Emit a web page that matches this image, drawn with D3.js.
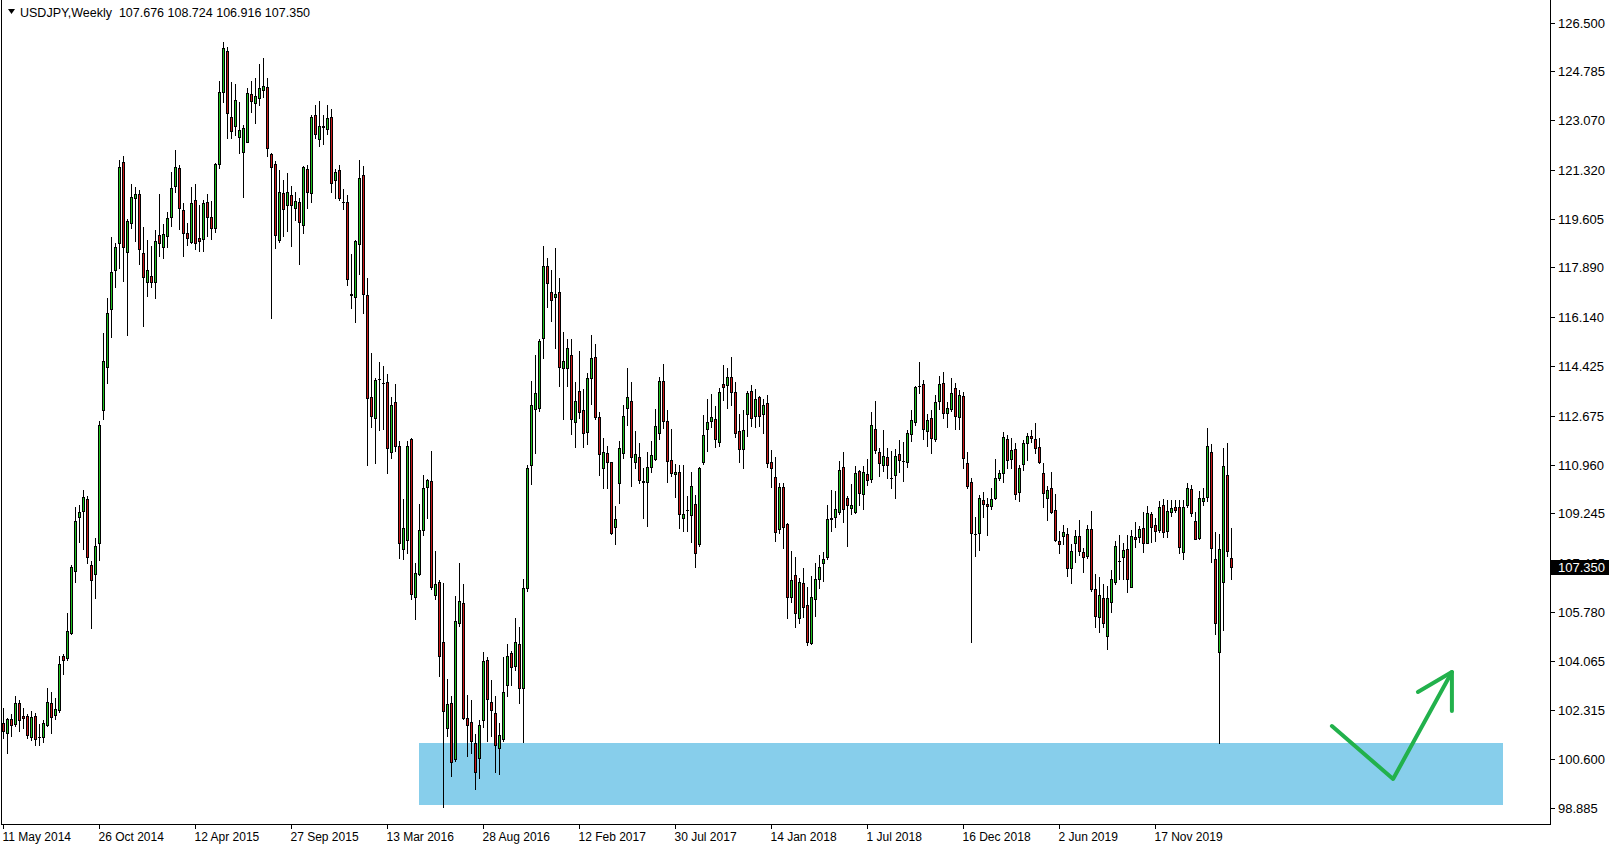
<!DOCTYPE html>
<html><head><meta charset="utf-8">
<script src="https://cdn.jsdelivr.net/npm/d3@7"></script>
<style>html,body{margin:0;padding:0;background:#fff;overflow:hidden}svg{display:block}text{font-family:"Liberation Sans",Arial,sans-serif}</style>
</head><body><svg id="c" width="1615" height="850"></svg>
<script>
const symbolTitle = "USDJPY,Weekly";
const lastQuote = ["107.676", "108.724", "106.916", "107.350"];
const open = [101.86,101.52,102.00,101.84,102.56,102.10,102.10,101.39,102.10,101.36,101.39,101.79,102.56,102.16,102.32,104.22,104.15,105.03,107.23,109.13,109.34,109.73,107.44,107.12,108.21,112.88,
114.40,116.42,117.80,118.74,121.59,118.45,119.44,120.32,120.46,118.39,117.39,117.59,117.39,119.02,118.62,119.01,119.68,120.77,121.38,119.91,119.09,118.80,120.25,118.92,118.88,120.18,
119.65,119.29,121.52,124.05,125.50,123.17,122.88,122.49,121.94,122.29,123.98,123.66,123.84,124.13,124.23,121.88,121.53,118.86,120.50,120.09,120.44,119.97,120.18,119.37,121.34,120.50,
123.25,122.40,122.86,122.76,123.19,120.96,121.32,120.20,120.20,116.94,116.84,118.71,121.16,116.93,113.35,112.59,113.96,113.82,113.86,111.39,113.15,111.60,107.99,108.30,111.86,106.30,
107.12,108.64,110.18,110.37,106.37,106.84,104.71,101.70,102.58,100.61,105.38,106.09,102.05,101.92,101.16,100.63,101.96,104.09,102.61,102.22,100.98,101.32,103.21,104.33,103.86,104.63,
103.09,106.62,110.94,112.91,112.96,115.40,117.94,117.02,116.84,117.02,114.37,114.34,114.81,112.47,113.55,112.88,112.11,113.99,114.73,112.62,110.85,111.35,111.04,108.75,110.30,111.35,
112.94,113.19,111.06,111.21,110.37,110.33,110.88,111.15,112.08,113.90,112.49,111.12,110.61,110.68,109.07,109.35,109.18,109.56,108.15,111.04,112.20,112.49,112.56,111.76,113.79,113.76,
114.03,113.50,112.14,111.49,112.72,113.54,112.68,113.32,112.72,113.11,111.06,110.53,108.68,110.18,108.87,106.31,107.06,105.55,106.78,106.02,104.67,106.22,106.95,107.48,107.72,109.06,
109.12,109.30,110.86,109.77,109.44,109.30,110.73,109.91,110.61,110.44,112.20,111.39,110.94,111.21,110.50,110.59,111.32,111.08,111.04,112.02,112.44,113.73,113.78,112.14,112.58,111.84,
113.19,113.82,112.76,112.90,113.64,112.64,113.37,111.00,110.33,108.53,108.54,109.71,109.56,109.51,109.77,110.47,110.65,111.86,111.14,111.49,110.00,110.97,111.70,111.96,111.85,111.58,
110.67,109.77,110.12,109.36,108.28,108.46,108.50,107.31,108.19,108.45,107.87,107.75,108.69,106.57,105.58,106.25,104.94,106.11,106.84,107.56,107.72,107.99,106.66,108.42,108.42,108.74,
108.21,109.21,108.83,108.66,109.54,108.63,109.28,109.45,109.45,107.89,109.54,110.09,108.97,108.39,109.69,109.81,111.39,107.64,104.38,106.81,110.59,107.676];
const high = [102.39,102.04,102.18,102.82,102.68,102.38,102.18,102.28,102.21,101.84,101.97,103.10,102.96,102.74,104.22,104.29,105.72,107.44,109.48,109.55,110.08,109.85,107.58,108.38,112.49,115.57,
116.80,118.95,118.74,121.67,121.81,119.60,120.83,120.73,120.62,119.30,118.86,118.65,119.21,120.47,119.42,119.85,121.26,122.02,121.49,120.17,119.44,120.71,120.83,120.09,120.26,120.47,
120.23,121.58,124.45,125.83,125.63,124.40,124.34,123.72,122.90,124.19,124.45,124.57,125.05,125.27,124.57,121.93,121.64,121.32,120.97,121.22,120.77,120.56,120.35,121.47,121.49,123.25,
123.59,123.75,123.26,123.62,123.47,121.37,121.49,120.64,120.44,118.38,118.86,121.67,121.47,117.51,114.87,114.02,114.56,114.44,114.14,113.33,113.78,111.78,109.74,111.80,111.90,107.50,
109.57,110.58,110.45,111.44,107.92,106.89,106.80,103.42,102.82,106.35,107.51,106.76,102.86,102.67,101.48,101.99,104.35,104.18,103.38,102.82,101.86,104.18,104.63,104.41,105.57,105.25,
106.95,110.94,113.91,114.81,115.37,118.65,118.24,117.80,118.56,117.53,115.61,115.37,115.37,113.87,114.95,113.62,114.17,115.51,115.20,112.82,111.88,111.61,111.06,109.50,111.79,113.05,
114.37,113.87,112.14,111.70,110.85,111.41,111.79,112.91,114.05,114.49,112.88,112.21,110.98,110.94,110.94,109.85,110.71,109.89,110.88,112.70,113.25,113.43,113.02,113.64,114.46,114.37,
114.75,113.87,112.72,112.88,113.56,113.76,113.60,113.37,113.25,113.40,111.47,111.21,110.30,110.30,108.91,107.93,107.72,106.96,107.31,106.64,107.04,107.48,107.78,107.89,109.53,110.06,
110.03,111.08,111.39,109.86,110.27,110.91,110.77,110.92,111.14,112.82,113.19,111.55,112.17,111.53,111.43,111.49,111.82,111.74,112.17,112.88,113.72,114.55,113.93,112.72,112.88,113.40,
114.07,114.23,113.17,114.01,113.82,113.58,113.50,111.39,110.47,109.10,109.89,109.98,109.79,110.15,111.15,110.77,112.12,112.00,111.90,111.70,110.94,111.82,112.08,112.17,112.41,111.88,
111.00,110.20,110.71,109.92,108.62,108.82,108.71,108.16,108.66,109.01,108.04,108.83,109.32,107.11,107.01,106.76,106.70,107.25,108.28,108.48,108.19,108.48,108.66,108.93,108.80,109.28,
109.51,109.30,109.07,109.68,109.75,109.71,109.71,109.71,109.71,109.71,110.30,110.24,109.28,110.03,110.14,112.26,111.68,108.60,108.52,111.53,111.73,108.724];
const low = [101.34,100.82,101.41,101.77,101.58,101.69,101.34,101.27,101.09,101.09,101.20,101.77,101.51,102.02,102.25,103.59,104.08,104.99,106.81,108.24,108.00,107.51,105.20,106.25,107.61,112.56,
113.84,115.43,117.21,117.86,117.43,115.52,119.29,118.83,118.01,115.84,116.90,117.21,116.83,118.29,118.21,118.60,119.35,120.56,119.24,118.31,118.68,118.76,118.54,118.48,118.48,119.01,
118.88,119.15,121.40,123.72,122.43,122.43,122.55,121.90,120.38,122.29,123.37,122.96,123.60,123.90,121.82,116.10,118.56,118.78,119.01,119.18,118.66,119.56,118.02,119.11,119.99,120.20,
122.44,122.17,122.22,122.58,120.56,120.32,120.28,119.95,117.29,116.48,115.96,117.65,116.28,110.95,112.29,111.03,112.16,112.22,110.65,111.19,111.44,107.66,107.63,107.84,106.24,105.54,
107.08,108.47,109.09,106.57,106.24,103.53,98.93,101.42,100.00,100.54,105.28,102.00,100.70,100.83,99.55,99.94,101.74,101.22,101.42,100.13,100.09,101.22,102.80,103.19,103.74,102.58,
101.20,106.50,110.26,111.35,112.85,114.69,116.51,116.01,115.05,113.73,112.55,113.73,112.03,111.59,112.61,111.59,111.67,113.08,112.55,110.59,110.12,110.12,108.51,108.15,109.59,111.20,
112.35,110.21,110.85,110.32,109.09,108.80,110.71,111.12,111.85,112.25,110.36,110.55,109.83,108.71,108.62,108.62,108.25,107.34,108.11,110.98,111.45,112.27,111.59,111.62,113.23,112.94,
113.05,111.94,111.06,110.82,111.97,112.33,112.29,112.31,112.06,110.88,110.18,108.28,108.56,108.03,105.55,106.11,105.26,105.37,105.61,104.61,104.65,105.64,106.63,106.87,107.64,108.63,
108.75,109.22,108.95,108.10,109.21,109.27,109.53,109.38,110.24,110.36,111.35,110.55,110.74,110.50,110.12,109.77,110.68,110.38,110.86,111.79,112.35,113.49,111.84,111.62,111.37,111.79,
112.91,112.61,112.29,112.85,112.21,112.21,110.82,110.15,104.73,107.75,107.95,109.13,108.48,109.39,109.75,110.42,110.36,110.83,110.85,109.73,109.68,110.77,111.12,111.76,111.35,111.02,
109.45,109.01,109.27,108.28,107.84,108.15,107.05,106.78,107.54,107.78,107.19,107.68,106.52,105.26,105.06,105.26,104.46,105.76,106.76,106.93,106.93,106.49,106.66,108.05,108.25,107.87,
108.19,108.25,108.27,108.60,108.42,108.42,109.16,109.28,107.84,107.64,109.48,109.16,108.33,108.34,109.54,109.68,107.52,105.00,101.18,105.14,107.75,106.916];
const close = [101.58,102.00,101.81,102.56,101.97,102.03,101.44,102.07,101.32,101.38,101.86,102.61,102.09,102.35,103.96,104.08,105.09,107.34,108.96,109.29,109.80,107.72,106.91,108.11,112.35,114.59,
116.28,117.72,118.62,121.41,118.62,119.52,120.36,120.46,118.53,117.57,117.80,117.39,118.82,118.76,119.06,119.62,120.67,121.41,119.99,119.09,118.94,120.15,118.76,118.83,120.15,119.68,
119.29,121.53,124.07,125.60,123.34,122.70,123.78,122.72,122.78,124.02,123.76,123.92,124.19,124.27,122.08,121.41,119.03,120.53,119.93,120.53,120.09,120.23,119.48,121.41,120.56,123.17,
122.59,122.86,122.84,123.14,120.86,121.25,120.32,120.19,117.47,116.93,118.83,121.02,116.95,113.29,112.65,113.92,113.95,113.82,111.53,113.05,111.62,108.20,108.71,111.60,106.39,107.13,
108.64,110.15,110.41,106.66,106.77,104.22,102.28,102.55,100.50,105.44,106.15,102.06,101.79,101.25,100.13,101.81,104.05,102.71,102.31,101.08,101.45,102.97,104.24,103.83,104.73,103.09,
106.62,110.83,113.05,113.46,115.30,117.94,117.33,116.75,116.94,114.40,114.60,115.05,112.55,113.19,112.82,112.08,113.99,114.69,112.64,111.32,111.39,111.04,108.56,109.06,111.53,112.67,
113.32,111.23,111.33,110.41,110.36,110.86,111.29,112.33,113.90,112.50,111.09,110.67,110.71,109.21,109.21,109.36,110.21,107.83,110.83,112.00,112.47,112.62,111.85,113.50,113.67,114.03,
113.50,112.08,111.49,112.17,113.46,112.58,113.25,112.66,113.05,111.00,110.82,108.60,110.16,108.77,106.31,106.90,105.72,106.81,105.96,104.73,106.29,106.92,107.34,107.62,109.03,109.07,
109.38,110.77,109.38,109.54,109.53,110.65,109.97,110.68,110.41,112.34,111.47,111.00,111.26,110.94,110.49,111.26,111.12,111.08,112.06,112.52,113.70,113.73,112.20,112.52,111.88,113.17,
113.78,112.78,112.94,113.46,112.68,113.40,111.20,110.22,108.54,108.51,109.77,109.56,109.51,109.73,110.47,110.65,111.92,111.12,111.47,109.91,110.83,111.70,111.97,111.90,111.53,111.06,
109.95,110.06,109.28,108.30,108.16,108.57,107.31,107.92,108.45,107.92,107.72,108.69,106.58,105.64,106.37,105.37,106.25,106.93,108.11,107.55,107.95,106.92,108.45,108.35,108.69,108.19,
109.24,108.77,108.63,109.45,108.57,109.34,109.44,109.36,108.07,109.45,110.12,109.27,108.33,109.77,109.77,111.61,108.03,105.37,107.98,110.91,107.93,107.350];
const priceTicks = [126.500,124.785,123.070,121.320,119.605,117.890,116.140,114.425,112.675,110.960,109.245,107.495,105.780,104.065,102.315,100.600,98.885];
const dateTickLabels = ["11 May 2014","26 Oct 2014","12 Apr 2015","27 Sep 2015","13 Mar 2016","28 Aug 2016","12 Feb 2017","30 Jul 2017","14 Jan 2018","1 Jul 2018","16 Dec 2018","2 Jun 2019","17 Nov 2019"];
const dateTickBars = [0,24,48,72,96,120,144,168,192,216,240,264,288];
const zoneBars = [103.9, 374.9];
const zonePrices = [101.16, 98.99];
const arrowBars = [332.1, 347.4, 362.1];
const arrowPrices = [101.76, 99.90, 103.66];
const arrowHeadBars = [353.6, 362.1];
const arrowHeadPrices = [102.96, 102.29];

const W = 1615, H = 850;
const plotRight = 1550.5, plotBottom = 824.5;
const svg = d3.select("#c");
svg.append("rect").attr("width", W).attr("height", H).attr("fill", "#fff");

const n = open.length;
const x = d3.scaleLinear().domain([0, n - 1]).range([3.5, 3.5 + 4 * (n - 1)]);
const y = d3.scaleLinear().domain([98.885, 126.5]).range([807.8, 22.7]);

// zone
svg.append("rect")
  .attr("x", Math.round(x(zoneBars[0]))).attr("width", Math.round(x(zoneBars[1]) - x(zoneBars[0])))
  .attr("y", Math.round(y(zonePrices[0]))).attr("height", Math.round(y(zonePrices[1]) - y(zonePrices[0])))
  .attr("fill", "#87CEEB");

// frame
const fr = svg.append("g").attr("shape-rendering", "crispEdges").attr("stroke", "#000").attr("stroke-width", 1);
fr.append("line").attr("x1", 1.5).attr("x2", 1.5).attr("y1", 0).attr("y2", plotBottom);
fr.append("line").attr("x1", plotRight).attr("x2", plotRight).attr("y1", 0).attr("y2", plotBottom);
fr.append("line").attr("x1", 1.5).attr("x2", plotRight).attr("y1", plotBottom).attr("y2", plotBottom);

// candles
const cg = svg.append("g").attr("shape-rendering", "crispEdges");
const up = "#1fc01f", dn = "#c81818";
d3.range(n).forEach(i => {
  const cx = x(i);
  const yh = Math.round(y(high[i])), yl = Math.round(y(low[i]));
  cg.append("rect").attr("x", cx - 0.5).attr("width", 1).attr("y", yh).attr("height", Math.max(1, yl - yh + 1)).attr("fill", "#000");
  const yt = Math.round(y(Math.max(open[i], close[i]))), yb = Math.round(y(Math.min(open[i], close[i])));
  cg.append("rect").attr("x", cx - 1.5).attr("width", 3).attr("y", yt).attr("height", Math.max(1, yb - yt + 1)).attr("fill", "#000");
  if (yb - yt >= 2) {
    cg.append("rect").attr("x", cx - 0.5).attr("width", 1).attr("y", yt + 1).attr("height", yb - yt - 1)
      .attr("fill", close[i] >= open[i] ? up : dn);
  }
});

// price axis
const pa = svg.append("g");
priceTicks.forEach(p => {
  const yy = Math.round(y(p)) + 0.5;
  pa.append("line").attr("x1", plotRight).attr("x2", plotRight + 4).attr("y1", yy).attr("y2", yy)
    .attr("stroke", "#000").attr("shape-rendering", "crispEdges");
  pa.append("text").attr("x", 1558).attr("y", yy).attr("dy", "0.35em").attr("font-size", 13).attr("fill", "#000").text(d3.format(".3f")(p));
});

// current price label
const yc = Math.round(y(close[n - 1]));
svg.append("rect").attr("x", 1551).attr("y", yc - 7).attr("width", 58).attr("height", 15).attr("fill", "#000");
svg.append("text").attr("x", 1558).attr("y", yc + 0.5).attr("dy", "0.35em").attr("font-size", 13).attr("fill", "#fff").text(d3.format(".3f")(close[n - 1]));

// date axis
const da = svg.append("g");
dateTickBars.forEach((b, k) => {
  const xx = x(b);
  da.append("line").attr("x1", xx).attr("x2", xx).attr("y1", plotBottom).attr("y2", plotBottom + 4)
    .attr("stroke", "#000").attr("shape-rendering", "crispEdges");
  da.append("text").attr("x", xx - 1).attr("y", 841).attr("font-size", 12).attr("fill", "#000").text(dateTickLabels[k]);
});

// header
svg.append("path").attr("d", "M8,9 L15,9 L11.5,14 Z").attr("fill", "#000");
svg.append("text").attr("x", 20).attr("y", 17).attr("font-size", 12.5).attr("fill", "#000")
  .style("white-space", "pre").text(symbolTitle + "  " + lastQuote.join(" "));

// arrow
const line = d3.line().x(d => x(d[0])).y(d => y(d[1]));
const ag = svg.append("g").attr("fill", "none").attr("stroke", "#22B14C").attr("stroke-width", 4).attr("stroke-linecap", "round").attr("stroke-linejoin", "round");
ag.append("path").attr("d", line(arrowBars.map((b, k) => [b, arrowPrices[k]])));
ag.append("path").attr("d", line([[arrowHeadBars[0], arrowHeadPrices[0]], [arrowBars[2], arrowPrices[2]], [arrowHeadBars[1], arrowHeadPrices[1]]]));
</script></body></html>
